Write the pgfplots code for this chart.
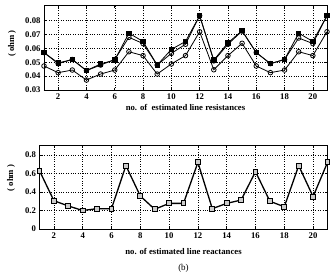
\documentclass[border=0pt]{standalone}
\usepackage{pgfplots}
\pgfplotsset{compat=1.18}
\usepackage{fontspec}
\setmainfont{Liberation Serif}
\begin{document}
\begin{tikzpicture}
\useasboundingbox (0,0) rectangle (330pt,-274pt);
\pgfplotsset{
  myax/.style={
    scale only axis,
    axis line style={black, line width=0.6pt},
    tick align=inside,
    major tick length=2.5pt,
    tick style={black, line width=0.5pt},
    grid=major,
    major grid style={black, dotted, line width=0.4pt},
    xmin=1, xmax=21,
    xtick={2,4,...,20},
    scaled y ticks=false,
    scaled x ticks=false,
    /pgf/number format/assume math mode=true,
    ticklabel style={font=\bfseries\fontsize{8.7}{10}\selectfont},
    label style={font=\bfseries\fontsize{8.7}{10}\selectfont},
  }
}
\begin{axis}[myax,
  at={(44pt,-5pt)}, anchor=north west,
  width=283pt, height=85pt,
  ymin=0.03, ymax=0.0913,
  ytick={0.03,0.04,0.05,0.06,0.07,0.08},
  yticklabels={0.03,0.04,0.05,0.06,0.07,0.08},
  xlabel={no. of\ \ estimated line resistances},
  ylabel={( ohm )},
  xlabel style={at={(axis description cs:0.5,-0.21)}, anchor=center},
  ylabel style={at={(axis description cs:-0.113,0.547)}, anchor=center},
]
\addplot[black, line width=0.8pt, mark=square*, mark size=2.2pt, mark options={fill=black}] coordinates {
(1,0.057) (2,0.0495) (3,0.052) (4,0.044) (5,0.0488) (6,0.0516) (7,0.071) (8,0.065) (9,0.048) (10,0.0593) (11,0.065)
(12,0.0836) (13,0.0516) (14,0.064) (15,0.0728) (16,0.057) (17,0.049) (18,0.052) (19,0.071) (20,0.065) (21,0.0836)};
\addplot[black, line width=0.8pt, mark=o, mark size=2.3pt, mark options={fill=white}] coordinates {
(1,0.057) (2,0.049) (3,0.052) (4,0.044) (5,0.048) (6,0.052) (7,0.068) (8,0.0635) (9,0.048) (10,0.0564) (11,0.063)
(12,0.0836) (13,0.051) (14,0.063) (15,0.0725) (16,0.057) (17,0.049) (18,0.052) (19,0.0675) (20,0.0635) (21,0.0836)};
\addplot[black, line width=0.8pt, mark=o, mark size=2.3pt, mark options={fill=white}] coordinates {
(1,0.0473) (2,0.0425) (3,0.0444) (4,0.0372) (5,0.0415) (6,0.0444) (7,0.0576) (8,0.0548) (9,0.0415) (10,0.0488) (11,0.0548)
(12,0.072) (13,0.0446) (14,0.0548) (15,0.0637) (16,0.0473) (17,0.0425) (18,0.0444) (19,0.0576) (20,0.0548) (21,0.072)};
\node[font=\fontsize{9}{10}\selectfont] at (axis description cs:0.5,-0.435) {(a)};
\end{axis}
\begin{axis}[myax,
  at={(39.5pt,-145pt)}, anchor=north west,
  width=288pt, height=84pt,
  ymin=0, ymax=0.908,
  ytick={0,0.2,0.4,0.6,0.8},
  yticklabels={0,0.2,0.4,0.6,0.8},
  xlabel={no. of estimated line reactances},
  ylabel={( ohm )},
  xlabel style={at={(axis description cs:0.5,-0.27)}, anchor=center},
  ylabel style={at={(axis description cs:-0.099,0.607)}, anchor=center},
  clip=false,
]
\addplot[black, line width=1.3pt, mark=square*, mark size=2.4pt, mark options={fill=gray!40, draw=black, line width=1pt}] coordinates {
(1,0.63) (2,0.306) (3,0.249) (4,0.20) (5,0.22) (6,0.22) (7,0.685) (8,0.357) (9,0.213) (10,0.277) (11,0.277)
(12,0.72) (13,0.22) (14,0.277) (15,0.313) (16,0.62) (17,0.30) (18,0.24) (19,0.685) (20,0.35) (21,0.72)};
\node[font=\fontsize{9}{10}\selectfont] at (axis description cs:0.5,-0.47) {(b)};
\end{axis}
\end{tikzpicture}
\end{document}
